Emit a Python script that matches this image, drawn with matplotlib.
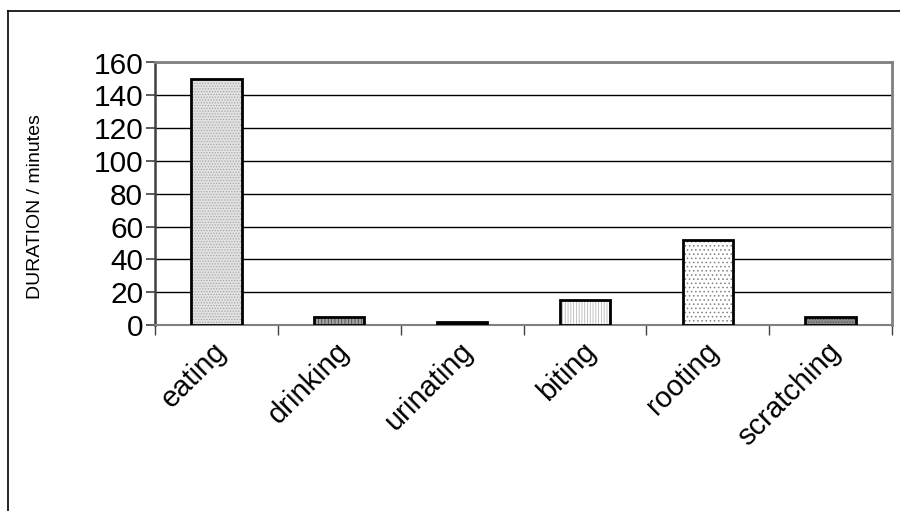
import matplotlib
matplotlib.use("Agg")
import matplotlib.pyplot as plt
from matplotlib.lines import Line2D

categories = ["eating", "drinking", "urinating", "biting", "rooting", "scratching"]
durations = [150, 5, 2, 15, 52, 5]
y_ticks = [0, 20, 40, 60, 80, 100, 120, 140, 160]

# per-bar fill pattern (face, hatch, hatch colour)
faces = ["#e2e2e2", "#a0a0a0", "#000000", "#ffffff", "#ffffff", "#8c8c8c"]
hatches = ["......", "|||||", "", "||||||", "....", "......"]
hatch_cols = ["#a8a8a8", "#505050", "#000000", "#b8b8b8", "#808080", "#555555"]

plt.rcParams["font.family"] = ["Liberation Sans", "DejaVu Sans"]
plt.rcParams["hatch.linewidth"] = 0.6

fig = plt.figure(figsize=(9, 5.11), dpi=100)
ax = fig.add_axes([155 / 900, 1 - 325 / 511, 737 / 900, 262.5 / 511])

x = list(range(len(categories)))
for i in x:
    ax.bar(i, durations[i], width=0.41, color=faces[i], edgecolor=hatch_cols[i],
           hatch=hatches[i], linewidth=0, zorder=3)
ax.bar(x, durations, width=0.41, fill=False, edgecolor="black", linewidth=2, zorder=4)

ax.set_xlim(-0.5, len(categories) - 0.5)
ax.set_ylim(0, 160)
ax.set_yticks(y_ticks)
ax.yaxis.grid(True, color="black", linewidth=1)
ax.set_axisbelow(True)

# labels sit a touch right of the bar centre
ax.set_xticks([i + 0.05 for i in x])
ax.set_xticklabels(categories, rotation=45, ha="right", va="center",
                   rotation_mode="anchor", fontsize=21)
ax.set_xticks([i - 0.5 for i in range(len(categories) + 1)], minor=True)
ax.tick_params(axis="x", which="major", length=0, pad=16)
ax.tick_params(axis="x", which="minor", length=7, width=1, color="#404040", direction="out")
ax.tick_params(axis="y", length=6.5, width=1.2, color="#404040", direction="out",
               labelsize=21.5, pad=2)

ax.set_ylabel("DURATION / minutes", fontsize=14)
ax.yaxis.set_label_coords(-0.15, 0.45)

for side in ("top", "right"):
    ax.spines[side].set_color("#808080")
    ax.spines[side].set_linewidth(2)
ax.spines["left"].set_color("#404040")
ax.spines["left"].set_linewidth(1.8)
ax.spines["bottom"].set_color("#808080")
ax.spines["bottom"].set_linewidth(1.5)

# outer chart border (left and top edges)
fig.add_artist(Line2D([8 / 900, 8 / 900], [0, 1 - 11 / 511], transform=fig.transFigure,
                      color="black", linewidth=1.2))
fig.add_artist(Line2D([8 / 900, 1], [1 - 11 / 511, 1 - 11 / 511], transform=fig.transFigure,
                      color="black", linewidth=1.2))

fig.savefig("out.png", dpi=100)
